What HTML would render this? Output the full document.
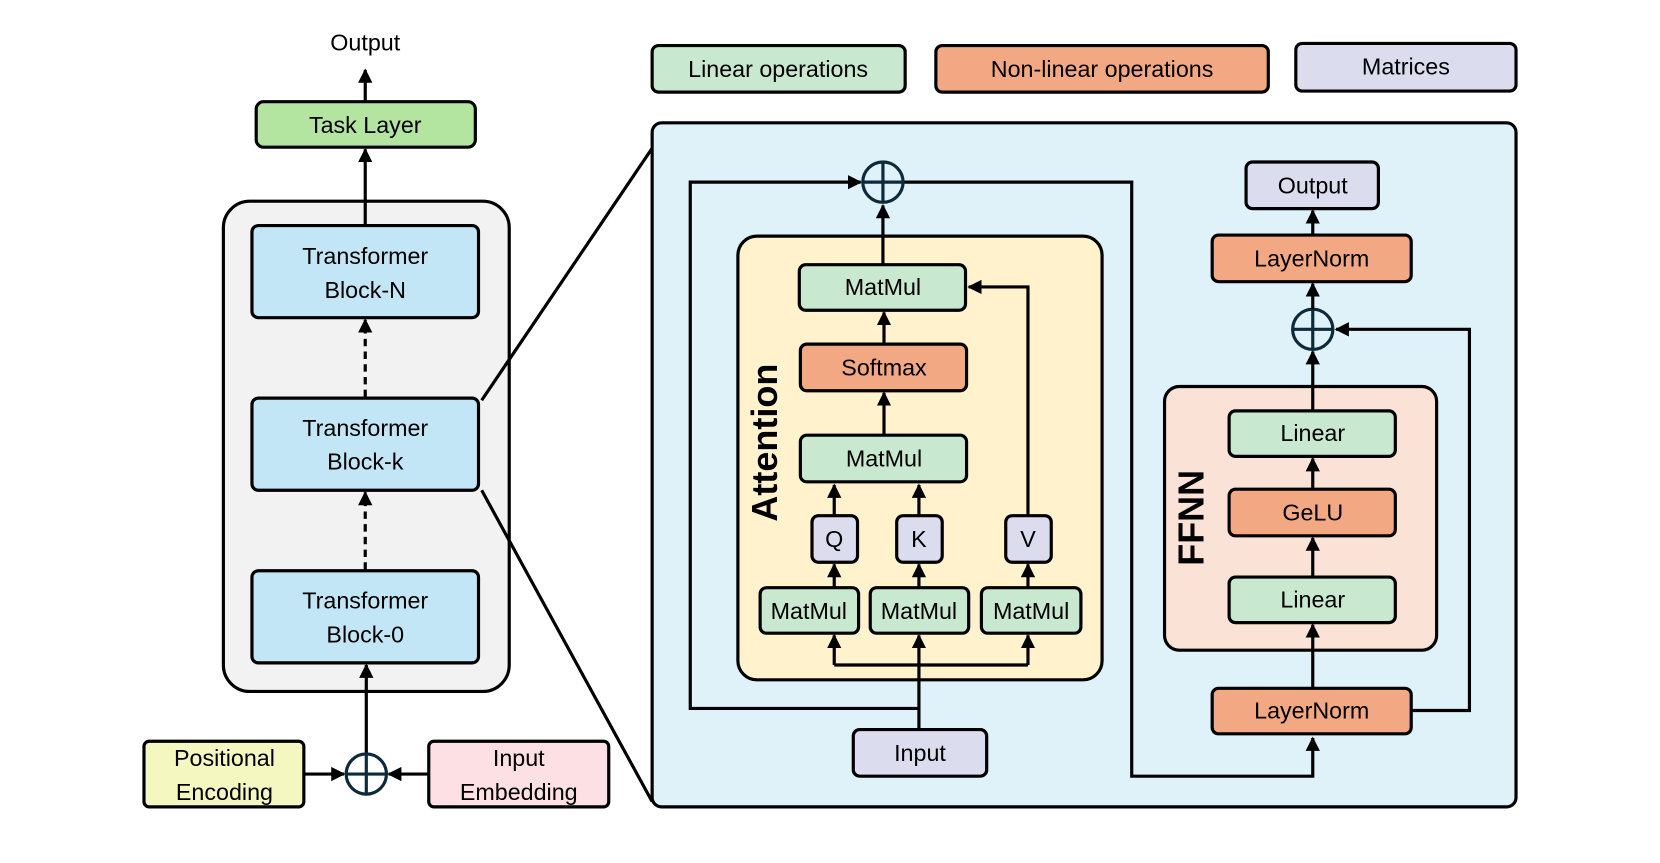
<!DOCTYPE html>
<html><head><meta charset="utf-8"><style>
html,body{margin:0;padding:0;background:#fff;width:1660px;height:863px;overflow:hidden}
svg{display:block}
text{font-family:"Liberation Sans",sans-serif;font-size:22px;fill:#000;text-anchor:middle;dominant-baseline:central}
.b{stroke:#000;stroke-width:3}
.l{stroke:#000;stroke-width:3;fill:none}
</style></head><body>
<svg width="1660" height="863" viewBox="0 0 1568 815" preserveAspectRatio="none" xmlns="http://www.w3.org/2000/svg">
<defs><marker id="a" viewBox="0 0 10 10" refX="9" refY="5" markerWidth="4.5" markerHeight="4.5" orient="auto-start-reverse"><path d="M0,0 L10,5 L0,10 z" fill="#000"/></marker></defs>
<text x="345" y="40">Output</text>
<line class="l" x1="345" y1="95" x2="345" y2="66" marker-end="url(#a)"/>
<rect class="b" x="242" y="96" width="207" height="43" rx="7" fill="#b3e5a1"/>
<text x="345" y="118">Task Layer</text>
<rect class="b" x="211" y="190" width="270" height="463" rx="25" fill="#f2f2f2"/>
<line class="l" x1="345" y1="213" x2="345" y2="141" marker-end="url(#a)"/>
<rect class="b" x="238" y="213" width="214" height="87" rx="6" fill="#c3e6f6"/>
<text x="345" y="242">Transformer</text><text x="345" y="274">Block-N</text>
<line class="l" x1="345" y1="375" x2="345" y2="302" stroke-dasharray="7,5" marker-end="url(#a)"/>
<rect class="b" x="238" y="376" width="214" height="87" rx="6" fill="#c3e6f6"/>
<text x="345" y="404">Transformer</text><text x="345" y="436">Block-k</text>
<line class="l" x1="345" y1="538" x2="345" y2="465" stroke-dasharray="7,5" marker-end="url(#a)"/>
<rect class="b" x="238" y="539" width="214" height="87" rx="6" fill="#c3e6f6"/>
<text x="345" y="567">Transformer</text><text x="345" y="599">Block-0</text>
<line class="l" x1="346" y1="712" x2="346" y2="628" marker-end="url(#a)"/>
<circle cx="346" cy="731" r="19" fill="none" stroke="#0d2a3a" stroke-width="3"/>
<line x1="327" y1="731" x2="365" y2="731" stroke="#0d2a3a" stroke-width="3"/><line x1="346" y1="712" x2="346" y2="750" stroke="#0d2a3a" stroke-width="3"/>
<rect class="b" x="136" y="700" width="151" height="62" rx="5" fill="#f4f7c0"/>
<text x="212" y="716">Positional</text><text x="212" y="748">Encoding</text>
<line class="l" x1="287" y1="731" x2="325" y2="731" marker-end="url(#a)"/>
<rect class="b" x="405" y="700" width="170" height="62" rx="5" fill="#fde0e3"/>
<text x="490" y="716">Input</text><text x="490" y="748">Embedding</text>
<line class="l" x1="405" y1="731" x2="367" y2="731" marker-end="url(#a)"/>
<line class="l" x1="455" y1="378" x2="616" y2="140"/>
<line class="l" x1="455" y1="463" x2="616" y2="757"/>
<rect class="b" x="616" y="43" width="239" height="44" rx="6" fill="#c9e8d0"/><text x="735" y="65">Linear operations</text>
<rect class="b" x="884" y="43" width="314" height="44" rx="6" fill="#f2a983"/><text x="1041" y="65">Non-linear operations</text>
<rect class="b" x="1224" y="41" width="208" height="45" rx="6" fill="#dcdcef"/><text x="1328" y="63">Matrices</text>
<rect class="b" x="616" y="116" width="816" height="646" rx="9" fill="#dff2fa"/>
<rect class="b" x="697" y="223" width="344" height="419" rx="18" fill="#fff2cc"/>
<text x="722" y="418" transform="rotate(-90 722 418)" style="font-size:34px;font-weight:bold">Attention</text>
<polyline class="l" points="868,669 652,669 652,172 813,172" marker-end="url(#a)"/>
<polyline class="l" points="853,172 1069,172 1069,733 1240,733 1240,697" marker-end="url(#a)"/>
<circle cx="834" cy="172" r="19" fill="none" stroke="#0d2a3a" stroke-width="3"/>
<line x1="815" y1="172" x2="853" y2="172" stroke="#0d2a3a" stroke-width="3"/><line x1="834" y1="153" x2="834" y2="191" stroke="#0d2a3a" stroke-width="3"/>
<line class="l" x1="834" y1="250" x2="834" y2="194" marker-end="url(#a)"/>
<rect class="b" x="755" y="250" width="157" height="43" rx="6" fill="#c9e8d0"/><text x="834" y="271">MatMul</text>
<line class="l" x1="835" y1="325" x2="835" y2="295" marker-end="url(#a)"/>
<rect class="b" x="756" y="325" width="157" height="44" rx="6" fill="#f2a983"/><text x="835" y="347">Softmax</text>
<line class="l" x1="835" y1="411" x2="835" y2="371" marker-end="url(#a)"/>
<rect class="b" x="756" y="411" width="157" height="44" rx="6" fill="#c9e8d0"/><text x="835" y="433">MatMul</text>
<polyline class="l" points="971,487 971,271 915,271" marker-end="url(#a)"/>
<line class="l" x1="788" y1="487" x2="788" y2="458" marker-end="url(#a)"/>
<line class="l" x1="868" y1="487" x2="868" y2="458" marker-end="url(#a)"/>
<rect class="b" x="767" y="487" width="43" height="44" rx="6" fill="#dcdcef"/><text x="788" y="509">Q</text>
<rect class="b" x="847" y="487" width="43" height="44" rx="6" fill="#dcdcef"/><text x="868" y="509">K</text>
<rect class="b" x="950" y="487" width="43" height="44" rx="6" fill="#dcdcef"/><text x="971" y="509">V</text>
<line class="l" x1="788" y1="555" x2="788" y2="533" marker-end="url(#a)"/>
<line class="l" x1="868" y1="555" x2="868" y2="533" marker-end="url(#a)"/>
<line class="l" x1="971" y1="555" x2="971" y2="533" marker-end="url(#a)"/>
<rect class="b" x="718" y="555" width="93" height="43" rx="6" fill="#c9e8d0"/><text x="764" y="577">MatMul</text>
<rect class="b" x="822" y="555" width="93" height="43" rx="6" fill="#c9e8d0"/><text x="868" y="577">MatMul</text>
<rect class="b" x="927" y="555" width="94" height="43" rx="6" fill="#c9e8d0"/><text x="974" y="577">MatMul</text>
<polyline class="l" points="788,628 971,628"/>
<line class="l" x1="788" y1="628" x2="788" y2="600" marker-end="url(#a)"/>
<line class="l" x1="971" y1="628" x2="971" y2="600" marker-end="url(#a)"/>
<line class="l" x1="868" y1="689" x2="868" y2="600" marker-end="url(#a)"/>
<rect class="b" x="806" y="689" width="126" height="44" rx="6" fill="#dcdcef"/><text x="869" y="711">Input</text>
<rect class="b" x="1100" y="365" width="257" height="249" rx="14" fill="#fae3d6"/>
<text x="1125" y="489" transform="rotate(-90 1125 489)" style="font-size:34px;font-weight:bold">FFNN</text>
<line class="l" x1="1240" y1="650" x2="1240" y2="590" marker-end="url(#a)"/>
<rect class="b" x="1161" y="545" width="157" height="43" rx="6" fill="#c9e8d0"/><text x="1240" y="566">Linear</text>
<line class="l" x1="1240" y1="545" x2="1240" y2="508" marker-end="url(#a)"/>
<rect class="b" x="1161" y="462" width="157" height="44" rx="6" fill="#f2a983"/><text x="1240" y="484">GeLU</text>
<line class="l" x1="1240" y1="462" x2="1240" y2="433" marker-end="url(#a)"/>
<rect class="b" x="1161" y="388" width="157" height="43" rx="6" fill="#c9e8d0"/><text x="1240" y="409">Linear</text>
<line class="l" x1="1240" y1="388" x2="1240" y2="332" marker-end="url(#a)"/>
<rect class="b" x="1145" y="650" width="188" height="43" rx="6" fill="#f2a983"/><text x="1239" y="671">LayerNorm</text>
<polyline class="l" points="1333,671 1388,671 1388,311 1262,311" marker-end="url(#a)"/>
<circle cx="1240" cy="311" r="19" fill="none" stroke="#0d2a3a" stroke-width="3"/>
<line x1="1221" y1="311" x2="1259" y2="311" stroke="#0d2a3a" stroke-width="3"/><line x1="1240" y1="292" x2="1240" y2="330" stroke="#0d2a3a" stroke-width="3"/>
<line class="l" x1="1240" y1="292" x2="1240" y2="268" marker-end="url(#a)"/>
<rect class="b" x="1145" y="222" width="188" height="44" rx="6" fill="#f2a983"/><text x="1239" y="244">LayerNorm</text>
<line class="l" x1="1240" y1="222" x2="1240" y2="199" marker-end="url(#a)"/>
<rect class="b" x="1177" y="153" width="125" height="44" rx="6" fill="#dcdcef"/><text x="1240" y="175">Output</text>
</svg>
</body></html>
